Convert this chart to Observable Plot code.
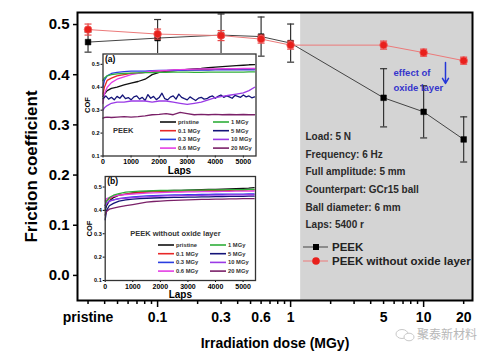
<!DOCTYPE html>
<html><head><meta charset="utf-8">
<script src="https://cdn.jsdelivr.net/npm/d3@7"></script>
<script src="https://cdn.jsdelivr.net/npm/@observablehq/plot@0.6"></script>
<style>
body{margin:0;background:#fff;}
#wrap{position:relative;width:496px;height:358px;}
#wrap svg{position:absolute;overflow:visible;}
#wrap svg text{font-family:"Liberation Sans",Arial,sans-serif;font-weight:bold;}
</style></head><body><div id="wrap"></div>
<script>
// ---------- main chart data ----------
const doseLabels = ["pristine","0.1","0.3","0.6","1","5","10","20"];
const doseValues = [0.03,0.1,0.3,0.6,1,5,10,20];
const peekCOF = [0.465,0.473,0.479,0.476,0.463,0.354,0.326,0.271];
const peekErr = [0.020,0.037,0.042,0.039,0.038,0.058,0.052,0.045];
const noOxideCOF = [0.490,0.481,0.478,0.471,0.459,0.459,0.444,0.428];
const noOxideErr = [0.011,0.010,0.010,0.008,0.008,0.008,0.007,0.007];
const shadedDose = [1.19, 23.3];
const yTicks = [0,0.1,0.2,0.3,0.4,0.5];
const xMajorTicks = [0.1,1,10];
const xMinorTicks = [0.03,0.04,0.05,0.06,0.07,0.08,0.09,0.2,0.3,0.4,0.5,0.6,0.7,0.8,0.9,2,3,4,5,6,7,8,9,20];
const conditions = ["Load: 5 N","Frequency: 6 Hz","Full amplitude: 5 mm","Counterpart: GCr15 ball","Ball diameter: 6 mm","Laps: 5400 r"];
const legendNames = ["PEEK","PEEK without oxide layer"];
const annotation = "effect of\noxide layer";

// ---------- inset data ----------
const seriesNames = ["pristine","0.1 MGy","0.3 MGy","0.6 MGy","1 MGy","5 MGy","10 MGy","20 MGy"];
const seriesColors = ["#111111","#e82828","#2a3ee0","#e43ee4","#2fae3a","#141478","#9a3ae6","#7a2068"];
const lapTicks = [0,1000,2000,3000,4000,5000];
const cofTicks = [0.1,0.2,0.3,0.4,0.5];
const laps = [0,50,150,300,500,750,1000,1250,1500,1750,2000,2250,2500,2750,3000,3250,3500,3750,4000,4250,4500,4750,5000,5200,5400];
const lapsDense = [0,100,200,300,400,500,600,700,800,900,1000,1100,1200,1300,1400,1500,1600,1700,1800,1900,2000,2100,2200,2300,2400,2500,2600,2700,2800,2900,3000,3100,3200,3300,3400,3500,3600,3700,3800,3900,4000,4100,4200,4300,4400,4500,4600,4700,4800,4900,5000,5100,5200,5300,5400];

// (a) PEEK
const a_pristine = [0.360,0.370,0.385,0.395,0.400,0.410,0.418,0.425,0.435,0.455,0.465,0.470,0.472,0.475,0.478,0.480,0.482,0.485,0.488,0.490,0.492,0.494,0.496,0.498,0.499];
const a_01 = [0.370,0.400,0.430,0.440,0.450,0.455,0.460,0.462,0.465,0.468,0.470,0.472,0.474,0.475,0.476,0.476,0.477,0.477,0.478,0.478,0.478,0.479,0.479,0.479,0.480];
const a_03 = [0.400,0.430,0.450,0.460,0.465,0.468,0.470,0.470,0.470,0.472,0.473,0.473,0.474,0.474,0.475,0.475,0.475,0.475,0.476,0.476,0.476,0.476,0.476,0.476,0.476];
const a_06 = [0.330,0.370,0.400,0.420,0.435,0.445,0.455,0.460,0.465,0.470,0.472,0.474,0.476,0.477,0.478,0.479,0.480,0.480,0.480,0.481,0.481,0.481,0.482,0.482,0.482];
const a_1 = [0.430,0.440,0.450,0.455,0.458,0.460,0.462,0.463,0.464,0.464,0.465,0.465,0.466,0.466,0.466,0.465,0.465,0.466,0.466,0.466,0.466,0.466,0.466,0.467,0.467];
const a_5 = [0.350,0.362,0.348,0.356,0.345,0.360,0.352,0.366,0.350,0.355,0.345,0.358,0.362,0.348,0.356,0.342,0.368,0.352,0.360,0.346,0.355,0.374,0.350,0.345,0.357,0.362,0.348,0.370,0.356,0.350,0.345,0.358,0.350,0.342,0.352,0.356,0.348,0.350,0.358,0.362,0.352,0.360,0.366,0.356,0.362,0.358,0.352,0.364,0.360,0.356,0.366,0.358,0.362,0.354,0.358];
const a_10 = [0.300,0.310,0.320,0.330,0.335,0.335,0.340,0.340,0.340,0.335,0.340,0.340,0.335,0.330,0.325,0.330,0.335,0.345,0.355,0.360,0.365,0.370,0.375,0.385,0.400];
const a_20 = [0.265,0.268,0.270,0.268,0.270,0.272,0.270,0.272,0.275,0.280,0.282,0.285,0.280,0.290,0.285,0.280,0.282,0.280,0.282,0.280,0.281,0.280,0.281,0.280,0.280];
// (b) PEEK without oxide layer
const b_pristine = [0.400,0.420,0.440,0.455,0.465,0.470,0.475,0.478,0.480,0.482,0.483,0.484,0.485,0.486,0.487,0.488,0.489,0.490,0.490,0.491,0.492,0.493,0.494,0.495,0.497];
const b_01 = [0.420,0.440,0.450,0.460,0.465,0.470,0.474,0.476,0.478,0.480,0.481,0.482,0.483,0.483,0.484,0.484,0.485,0.485,0.486,0.486,0.486,0.487,0.487,0.488,0.488];
const b_03 = [0.410,0.430,0.440,0.445,0.450,0.455,0.458,0.460,0.462,0.463,0.464,0.465,0.466,0.466,0.467,0.467,0.468,0.468,0.469,0.469,0.470,0.470,0.470,0.471,0.471];
const b_06 = [0.440,0.450,0.455,0.460,0.465,0.468,0.470,0.472,0.474,0.475,0.476,0.477,0.478,0.478,0.479,0.479,0.480,0.480,0.480,0.481,0.481,0.482,0.482,0.482,0.483];
const b_1 = [0.420,0.440,0.455,0.465,0.472,0.478,0.480,0.482,0.483,0.484,0.485,0.485,0.486,0.486,0.487,0.487,0.487,0.488,0.488,0.488,0.489,0.489,0.489,0.490,0.490];
const b_5 = [0.360,0.400,0.420,0.430,0.440,0.445,0.448,0.450,0.452,0.453,0.454,0.455,0.456,0.456,0.457,0.457,0.458,0.458,0.459,0.459,0.460,0.460,0.460,0.461,0.461];
const b_10 = [0.420,0.430,0.440,0.445,0.450,0.452,0.455,0.457,0.458,0.460,0.461,0.462,0.462,0.463,0.463,0.464,0.464,0.465,0.465,0.465,0.466,0.466,0.466,0.467,0.467];
const b_20 = [0.380,0.395,0.405,0.410,0.415,0.420,0.425,0.430,0.435,0.438,0.440,0.442,0.443,0.444,0.445,0.446,0.447,0.447,0.448,0.448,0.449,0.449,0.450,0.450,0.450];

const FONT = "'Liberation Sans', Arial, sans-serif";
const wrap = document.getElementById("wrap");

// ---------- main plot ----------
const mainRows = doseValues.map((x, i) => ({x, label: doseLabels[i], peek: peekCOF[i], pe: peekErr[i], nox: noOxideCOF[i], ne: noOxideErr[i]}));
const cap = {draw(ctx, size){ const w = Math.sqrt(size / Math.PI); ctx.moveTo(-w, 0); ctx.lineTo(w, 0); }};
const FRAME_H = 358 - 12 - 58;

const main = Plot.plot({
  width: 496, height: 358,
  marginLeft: 77, marginRight: 24, marginTop: 12, marginBottom: 58,
  style: {fontFamily: FONT, background: "white", color: "black"},
  x: {type: "log", domain: [0.025, 23.3], axis: null},
  y: {domain: [-0.05, 0.524]},
  marks: [
    Plot.rect([{x1: shadedDose[0], x2: shadedDose[1]}], {x1: "x1", x2: "x2", fill: "#d4d4d4"}),
    // PEEK
    Plot.line(mainRows, {x: "x", y: "peek", stroke: "#444", strokeWidth: 1}),
    Plot.ruleX(mainRows, {x: "x", y1: d => d.peek - d.pe, y2: d => d.peek + d.pe, stroke: "#333", strokeWidth: 1.2}),
    Plot.dot(mainRows, {x: "x", y: d => d.peek - d.pe, symbol: cap, r: 3.5, stroke: "#333", strokeWidth: 1.2}),
    Plot.dot(mainRows, {x: "x", y: d => d.peek + d.pe, symbol: cap, r: 3.5, stroke: "#333", strokeWidth: 1.2}),
    Plot.dot(mainRows, {x: "x", y: "peek", symbol: "square", r: 3.2, fill: "black", stroke: "black", strokeWidth: 0.5}),
    // without oxide layer
    Plot.line(mainRows, {x: "x", y: "nox", stroke: "#ec7a7a", strokeWidth: 1}),
    Plot.ruleX(mainRows, {x: "x", y1: d => d.nox - d.ne, y2: d => d.nox + d.ne, stroke: "#e84a4a", strokeWidth: 1.2}),
    Plot.dot(mainRows, {x: "x", y: d => d.nox - d.ne, symbol: cap, r: 3.5, stroke: "#e84a4a", strokeWidth: 1.2}),
    Plot.dot(mainRows, {x: "x", y: d => d.nox + d.ne, symbol: cap, r: 3.5, stroke: "#e84a4a", strokeWidth: 1.2}),
    Plot.dot(mainRows, {x: "x", y: "nox", r: 3.8, fill: "#e8201c", stroke: "#f06060", strokeWidth: 0.8}),
    // axes
    Plot.axisY(yTicks, {tickSize: 4, tickPadding: 4, tickFormat: d => d.toFixed(1), fontSize: 15, strokeWidth: 1.5, label: null}),
    Plot.tickX(xMajorTicks, {x: d => d, insetTop: FRAME_H - 7, dy: 7, stroke: "black", strokeWidth: 1.5}),
    Plot.tickX(xMinorTicks, {x: d => d, insetTop: FRAME_H - 4, dy: 4, stroke: "black", strokeWidth: 1.5}),
    Plot.text(mainRows, {x: "x", text: "label", frameAnchor: "bottom", dy: 17, lineAnchor: "middle", textAnchor: "middle", fontSize: 14}),
    Plot.frame({stroke: "black", strokeWidth: 2}),
    Plot.text(["Friction coefficient"], {frameAnchor: "left", dx: -46, dy: 10, rotate: -90, textAnchor: "middle", lineAnchor: "middle", fontSize: 17}),
    Plot.text(["Irradiation dose (MGy)"], {frameAnchor: "bottom", dy: 43, textAnchor: "middle", lineAnchor: "middle", fontSize: 14}),
    Plot.text([conditions.join("\n")], {frameAnchor: "top-left", dx: 228, dy: 166, textAnchor: "start", lineAnchor: "middle", lineHeight: 1.76, fontSize: 10, fill: "#2a2a2a"}),
    Plot.text([annotation], {frameAnchor: "top-left", dx: 316, dy: 66.5, textAnchor: "start", lineAnchor: "middle", lineHeight: 1.5, fontSize: 9.5, fill: "#3434cc"}),
    Plot.arrow([{x: 14.6, y1: 0.4243, y2: 0.3825}], {x1: "x", x2: "x", y1: "y1", y2: "y2", stroke: "#2436d8", strokeWidth: 1.5, headLength: 6})
  ]
});
main.style.left = "0px"; main.style.top = "0px";
wrap.appendChild(main);

// main legend
{
  const g = d3.select(main).append("g").attr("text-anchor", "start");
  const rows = [
    {name: legendNames[0], line: "#444", y: 247, sym: "square", fill: "black"},
    {name: legendNames[1], line: "#ec7a7a", y: 261, sym: "circle", fill: "#e8201c"}
  ];
  rows.forEach(r => {
    g.append("line").attr("x1", 303).attr("x2", 328).attr("y1", r.y).attr("y2", r.y).attr("stroke", r.line).attr("stroke-width", 1);
    if (r.sym === "square") g.append("rect").attr("x", 313).attr("y", r.y - 3).attr("width", 6).attr("height", 6).attr("fill", r.fill);
    else g.append("circle").attr("cx", 316).attr("cy", r.y).attr("r", 3.8).attr("fill", r.fill);
    g.append("text").attr("x", 332).attr("y", r.y).attr("dy", "0.35em").attr("font-size", 11.5).attr("fill", "#222").text(r.name);
  });
  g.append("text").attr("x", 417).attr("y", 335).attr("dy", "0.35em").attr("font-size", 12)
    .attr("fill", "#b8b8b8").style("font-family", "'Noto Sans CJK SC', sans-serif").style("font-weight", "normal").text("聚泰新材料");
  g.append("ellipse").attr("cx", 402).attr("cy", 334).attr("rx", 6).attr("ry", 4.5).attr("fill", "none").attr("stroke", "#c8c8c8");
  g.append("ellipse").attr("cx", 409).attr("cy", 337).attr("rx", 5).attr("ry", 3.8).attr("fill", "white").attr("stroke", "#c8c8c8");
}

// ---------- insets ----------
function makeInset(seriesList, cfg) {
  const rows = seriesList.flatMap((s, si) => s.values.map((v, i) => ({lap: s.laps[i], cof: v, name: seriesNames[si]})));
  const svg = Plot.plot({
    width: cfg.width, height: cfg.height,
    marginLeft: cfg.ml, marginRight: cfg.mr, marginTop: cfg.mt, marginBottom: cfg.mb,
    style: {fontFamily: FONT, background: "white", color: "black"},
    x: {domain: [0, 5450]},
    y: {domain: [0.1, 0.545]},
    color: {domain: seriesNames, range: seriesColors},
    marks: [
      Plot.line(rows, {x: "lap", y: "cof", z: "name", stroke: "name", strokeWidth: 1.3}),
      Plot.axisX(lapTicks, {tickSize: 2, tickPadding: 1.5, fontSize: 7, tickFormat: d => String(d), label: null, strokeWidth: 1}),
      Plot.axisY(cofTicks, {tickSize: 2, tickPadding: 1.5, fontSize: 5.5, tickFormat: d => d.toFixed(1), label: null, strokeWidth: 1}),
      Plot.frame({stroke: "#333", strokeWidth: 1.3}),
      Plot.text(["Laps"], {frameAnchor: "bottom", dy: cfg.lapsDy, lineAnchor: "middle", fontSize: 10}),
      Plot.text(["COF"], {frameAnchor: "left", dx: cfg.cofDx, rotate: -90, textAnchor: "middle", lineAnchor: "middle", fontSize: 7.5}),
      Plot.text([cfg.tag], {frameAnchor: "top-left", dx: 2, dy: 5, textAnchor: "start", lineAnchor: "middle", fontSize: 8.5}),
      Plot.text([cfg.title], {frameAnchor: "top-left", dx: cfg.titleDx, dy: cfg.titleDy, textAnchor: "start", lineAnchor: "middle", fontSize: 7.5, fill: "#333"})
    ]
  });
  svg.style.left = cfg.left + "px"; svg.style.top = cfg.top + "px";
  wrap.appendChild(svg);
  const g = d3.select(svg).append("g").attr("text-anchor", "start");
  seriesNames.forEach((n, i) => {
    const col = Math.floor(i / 4), row = i % 4;
    const x0 = cfg.legX[col], y = cfg.legY + row * 8.7;
    g.append("line").attr("x1", x0).attr("x2", x0 + 16).attr("y1", y).attr("y2", y).attr("stroke", seriesColors[i]).attr("stroke-width", 1.6);
    g.append("text").attr("x", x0 + 18).attr("y", y).attr("dy", "0.35em").attr("font-size", 5.8).attr("fill", "#333").text(n);
  });
}

makeInset([
  {laps, values: a_pristine}, {laps, values: a_01}, {laps, values: a_03}, {laps, values: a_06},
  {laps, values: a_1}, {laps: lapsDense, values: a_5}, {laps, values: a_10}, {laps, values: a_20}
], {left: 80, top: 53, width: 178, height: 123, ml: 22.5, mr: 2.5, mt: 0.5, mb: 20.5,
    lapsDy: 14.5, cofDx: -15.5, tag: "(a)", title: "PEEK", titleDx: 10, titleDy: 77, legX: [80, 133], legY: 69});

makeInset([
  {laps, values: b_pristine}, {laps, values: b_01}, {laps, values: b_03}, {laps, values: b_06},
  {laps, values: b_1}, {laps, values: b_5}, {laps, values: b_10}, {laps, values: b_20}
], {left: 80, top: 175, width: 178, height: 123, ml: 24.7, mr: 3, mt: 1, mb: 18,
    lapsDy: 14, cofDx: -16, tag: "(b)", title: "PEEK without oxide layer", titleDx: 25, titleDy: 57, legX: [78, 130], legY: 70});
</script></body></html>
